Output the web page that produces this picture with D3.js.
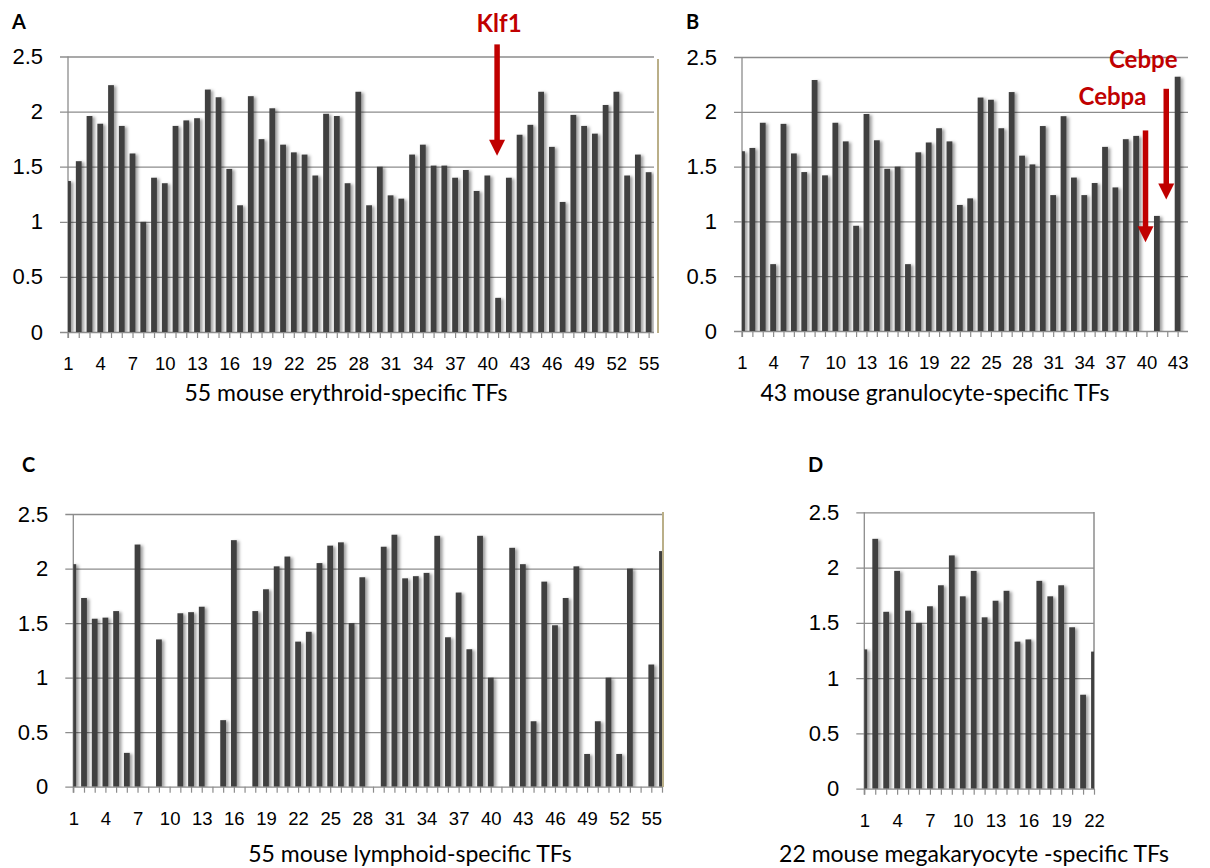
<!DOCTYPE html>
<html>
<head>
<meta charset="utf-8">
<script src="https://cdn.jsdelivr.net/npm/d3@7"></script>
<style>
body { margin: 0; background: #fff; }
svg { font-family: Lato, "Open Sans", sans-serif; }
</style>
</head>
<body>
<div id="chart"></div>
<script>
// values, one bar per TF (0 = no bar drawn)
var erythroid = [1.37, 1.55, 1.96, 1.89, 2.24, 1.87, 1.62, 1.00, 1.40, 1.35,
    1.87, 1.92, 1.94, 2.20, 2.13, 1.48, 1.15, 2.14, 1.75, 2.03,
    1.70, 1.63, 1.61, 1.42, 1.98, 1.96, 1.35, 2.18, 1.15, 1.50,
    1.24, 1.21, 1.61, 1.70, 1.51, 1.51, 1.40, 1.47, 1.28, 1.42,
    0.31, 1.40, 1.79, 1.88, 2.18, 1.68, 1.18, 1.97, 1.87, 1.80,
    2.06, 2.18, 1.42, 1.61, 1.45];
var granulocyte = [1.64, 1.67, 1.90, 0.61, 1.89, 1.62, 1.45, 2.29, 1.42, 1.90,
    1.73, 0.96, 1.98, 1.74, 1.48, 1.50, 0.61, 1.63, 1.72, 1.85,
    1.73, 1.15, 1.21, 2.13, 2.11, 1.85, 2.18, 1.60, 1.52, 1.87,
    1.24, 1.96, 1.40, 1.24, 1.35, 1.68, 1.31, 1.75, 1.78, 0,
    1.05, 0, 2.32];
var lymphoid = [2.04, 1.73, 1.54, 1.55, 1.61, 0.31, 2.22, 0, 1.35, 0,
    1.59, 1.60, 1.65, 0, 0.61, 2.26, 0, 1.61, 1.81, 2.02,
    2.11, 1.33, 1.42, 2.05, 2.21, 2.24, 1.50, 1.92, 0, 2.20,
    2.31, 1.91, 1.93, 1.96, 2.30, 1.37, 1.78, 1.26, 2.30, 1.00,
    0, 2.19, 2.04, 0.60, 1.88, 1.48, 1.73, 2.02, 0.30, 0.60,
    1.00, 0.30, 2.00, 0, 1.12, 2.16];
var megakaryocyte = [1.26, 2.26, 1.60, 1.97, 1.61, 1.50, 1.65, 1.84, 2.11, 1.74,
    1.97, 1.55, 1.70, 1.79, 1.33, 1.35, 1.88, 1.74, 1.84, 1.46,
    0.85, 1.24];

var yTicks = [0, 0.5, 1, 1.5, 2, 2.5];
var panelLetters = ["A", "B", "C", "D"];
var panelTitles = ["55 mouse erythroid-specific TFs",
    "43 mouse granulocyte-specific TFs",
    "55 mouse lymphoid-specific TFs",
    "22 mouse megakaryocyte -specific TFs"];

// marked genes: panel index, gene number, arrow start / end in data units
var markGenes = ["Klf1", "Cebpa", "Cebpe"];
var markPanel = [0, 1, 1];
var markIndex = [41, 40, 42];
var markFrom = [2.61, 1.83, 2.21];
var markTo = [1.60, 0.81, 1.20];

// layout of the four panels (pixels)
var layout = [
    {left: 68, right: 654, slots: 55.5, top: 56.5, bottom: 332, lx: 12, ly: 29, tx: 346, ty: 401, border: {x: 658, y1: 59, y2: 333, color: "#a39461"}},
    {left: 742, right: 1188, slots: 44, top: 57, bottom: 331, lx: 686, ly: 29, tx: 935, ty: 401, border: null},
    {left: 73.3, right: 662, slots: 56, top: 514, bottom: 786.7, lx: 22, ly: 472, tx: 410, ty: 862, border: {x: 663, y1: 512, y2: 787, color: "#a39461"}},
    {left: 864.3, right: 1094, slots: 22, top: 512.3, bottom: 788.7, lx: 808, ly: 472, tx: 974, ty: 862, border: {x: 1094, y1: 512, y2: 789, color: "#8c8c8c"}}
];
// label offsets of the marked genes (dx from arrow, baseline above arrow start)
var markLabelPos = [{dx: 2, dy: -12}, {dx: -33, dy: -25}, {dx: -23, dy: -21}];

var gridColor = "#8c8c8c",
    barColor = "#404040",
    markColor = "#c00000",
    barWidth = 5.8;

// SVG
var svg = d3.select("#chart")
    .append("svg")
        .attr("width", 1210)
        .attr("height", 868);

var defs = svg.append("defs");

// soft shadow that Excel puts behind each bar
var shadow = defs.append("filter")
    .attr("id", "barShadow")
    .attr("x", "-50%").attr("y", "-10%")
    .attr("width", "250%").attr("height", "130%");
shadow.append("feDropShadow")
    .attr("dx", 2.5)
    .attr("dy", 1)
    .attr("stdDeviation", 1.7)
    .attr("flood-color", "#000")
    .attr("flood-opacity", 0.38);

var allValues = [erythroid, granulocyte, lymphoid, megakaryocyte];

allValues.forEach(function(values, k) {
    var p = layout[k];

    var x = d3.scaleLinear()
        .domain([1, p.slots])
        .range([p.left, p.right]);

    var y = d3.scaleLinear()
        .domain([0, 2.5])
        .range([p.bottom, p.top]);

    var g = svg.append("g").attr("class", "panel");

    // gridlines + y tick labels (left axis hung from the right edge)
    var yAxis = g.append("g")
        .attr("class", "y axis")
        .attr("transform", "translate(" + p.right + ",0)")
        .call(d3.axisLeft(y)
            .tickValues(yTicks)
            .tickSize(p.right - p.left + 8)
            .tickPadding(17)
            .tickFormat(d3.format("")));
    yAxis.select(".domain").remove();
    yAxis.selectAll("line")
        .attr("stroke", gridColor)
        .attr("stroke-width", 1.3);
    yAxis.selectAll("text")
        .attr("fill", "#000")
        .style("font-size", "22px");

    // x axis: a tick under every category, label every third
    var cats = d3.range(1, values.length + 1);
    var xAxis = g.append("g")
        .attr("class", "x axis")
        .attr("transform", "translate(0," + p.bottom + ")")
        .call(d3.axisBottom(x)
            .tickValues(cats)
            .tickSize(6)
            .tickPadding(19)
            .tickFormat(function(d) { return (d - 1) % 3 === 0 ? d : ""; }));
    xAxis.select(".domain").remove();
    xAxis.selectAll("line")
        .attr("stroke", gridColor)
        .attr("stroke-width", 1.2);
    xAxis.selectAll("text")
        .attr("fill", "#000")
        .style("font-size", "18.5px");

    // vertical axis line
    g.append("line")
        .attr("x1", p.left).attr("x2", p.left)
        .attr("y1", p.top).attr("y2", p.bottom + 6)
        .attr("stroke", gridColor)
        .attr("stroke-width", 1.3);

    // right frame line
    if (p.border) {
        g.append("line")
            .attr("x1", p.border.x).attr("x2", p.border.x)
            .attr("y1", p.border.y1).attr("y2", p.border.y2)
            .attr("stroke", p.border.color)
            .attr("stroke-width", 1.5);
    }

    // bars clipped to the plot area
    var clipId = "clip" + k;
    defs.append("clipPath")
        .attr("id", clipId)
        .append("rect")
            .attr("x", p.left)
            .attr("y", p.top - 10)
            .attr("width", p.right - p.left)
            .attr("height", p.bottom - p.top + 10);

    g.append("g")
        .attr("clip-path", "url(#" + clipId + ")")
        .append("g")
        .attr("filter", "url(#barShadow)")
        .selectAll("rect")
        .data(values.map(function(v, i) { return {i: i + 1, v: v}; })
            .filter(function(d) { return d.v > 0; }))
        .enter()
        .append("rect")
            .attr("x", function(d) { return x(d.i) - barWidth / 2; })
            .attr("width", barWidth)
            .attr("y", function(d) { return y(d.v); })
            .attr("height", function(d) { return y(0) - y(d.v); })
            .attr("fill", barColor);

    // panel letter
    g.append("text")
        .attr("x", p.lx)
        .attr("y", p.ly)
        .attr("font-weight", "bold")
        .style("font-size", "20px")
        .text(panelLetters[k]);

    // axis title
    g.append("text")
        .attr("x", p.tx)
        .attr("y", p.ty)
        .attr("text-anchor", "middle")
        .style("font-size", "23px")
        .text(panelTitles[k]);

    // red arrows pointing to marked genes
    markGenes.forEach(function(name, m) {
        if (markPanel[m] !== k) return;
        var ax = x(markIndex[m]) - 1,
            y1 = y(markFrom[m]),
            y2 = y(markTo[m]),
            head = 16;
        g.append("line")
            .attr("x1", ax).attr("x2", ax)
            .attr("y1", y1).attr("y2", y2 - head + 2)
            .attr("stroke", markColor)
            .attr("stroke-width", 5.5);
        g.append("path")
            .attr("d", "M" + (ax - 8) + "," + (y2 - head) + "L" + (ax + 8) + "," + (y2 - head) + "L" + ax + "," + y2 + "Z")
            .attr("fill", markColor);
        g.append("text")
            .attr("x", ax + markLabelPos[m].dx)
            .attr("y", y1 + markLabelPos[m].dy)
            .attr("text-anchor", "middle")
            .attr("font-weight", "bold")
            .attr("fill", markColor)
            .style("font-size", "24px")
            .text(name);
    });
});
</script>
</body>
</html>
